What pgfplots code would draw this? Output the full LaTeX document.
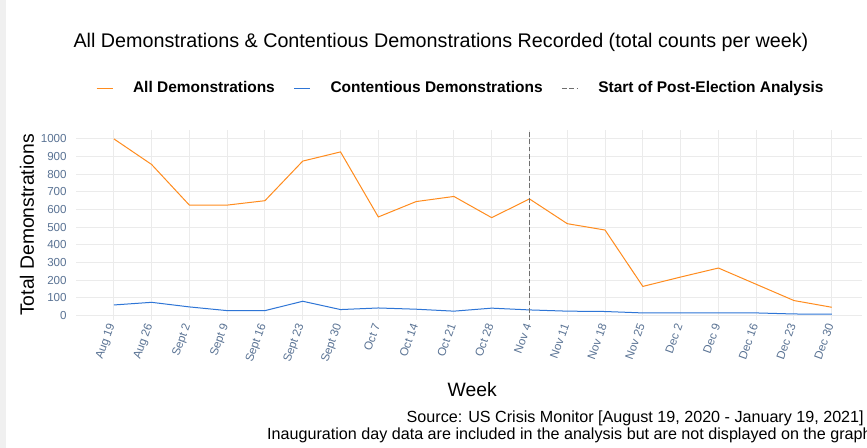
\documentclass[border=0pt]{standalone}
\usepackage{fontspec}
\setmainfont{Liberation Sans}
\usepackage{pgfplots}
\pgfplotsset{compat=1.18}
\definecolor{allorange}{RGB}{255,140,30}
\definecolor{contblue}{RGB}{46,117,214}
\definecolor{gridgray}{RGB}{235,235,235}
\definecolor{tickblue}{RGB}{90,115,148}
\definecolor{dashgray}{RGB}{110,110,110}
\definecolor{edgegray}{RGB}{240,240,240}

\begin{document}
\begin{tikzpicture}[x=0.75pt,y=0.75pt]
\useasboundingbox (0,0) rectangle (867,448);
\fill[white] (0,0) rectangle (867,448);
\fill[edgegray] (0,0) rectangle (6,448);
\begin{axis}[
    at={(57pt,96pt)}, anchor=south west,
    scale only axis, width=589.5pt, height=142.5pt,
    xmin=-1, xmax=19.8, ymin=-25, ymax=1050,
    axis line style={draw=none}, tick style={draw=none},
    grid=major, grid style={color=gridgray, line width=0.75pt},
    xtick={0,...,19},
    xticklabels={Aug 19, Aug 26, Sept 2, Sept 9, Sept 16, Sept 23, Sept 30, Oct 7, Oct 14, Oct 21, Oct 28, Nov 4, Nov 11, Nov 18, Nov 25, Dec 2, Dec 9, Dec 16, Dec 23, Dec 30},
    ytick={0,100,...,1000},
    /pgf/number format/assume math mode=true,
    /pgf/number format/1000 sep={},
    xticklabel style={rotate=70, anchor=east, font=\fontsize{8.7}{10}\selectfont, text=tickblue},
    yticklabel style={font=\fontsize{8.7}{10}\selectfont, text=tickblue, xshift=-3.5pt},
    xlabel={Week}, ylabel={Total Demonstrations},
    label style={font=\fontsize{14.5}{16}\selectfont},
    xlabel style={at={(axis description cs:0.504,-0.368)}, anchor=center},
    ylabel style={at={(axis description cs:-0.0623,0.5)}, anchor=center},
    legend columns=3,
    legend style={draw=none, fill=none, at={(0.49,1.221)}, anchor=center,
        font=\bfseries\fontsize{11.6}{13}\selectfont,
        /tikz/every odd column/.append style={column sep=13pt},
        /tikz/every even column/.append style={column sep=12pt}},
    legend image code/.code={\draw[#1] (0pt,0pt) -- (12pt,0pt);},
]
\addplot[color=allorange, line width=0.75pt] coordinates {
(0,1000) (1,855) (2,625) (3,625) (4,650) (5,874) (6,926) (7,558) (8,645) (9,674)
(10,554) (11,660) (12,520) (13,484) (14,165) (15,218) (16,269) (17,177) (18,85) (19,47)};
\addlegendentry{All Demonstrations}
\addplot[color=contblue, line width=0.75pt] coordinates {
(0,60) (1,75) (2,49) (3,28) (4,28) (5,81) (6,34) (7,43) (8,36) (9,25)
(10,42) (11,32) (12,25) (13,23) (14,15) (15,15) (16,15) (17,15) (18,9) (19,8)};
\addlegendentry{Contentious Demonstrations}
\addplot[color=dashgray, line width=0.75pt, dash pattern=on 3.5pt off 2pt] coordinates {(11,-25) (11,1050)};
\addlegendentry{Start of Post-Election Analysis}
\end{axis}
\node[font=\fontsize{14.8}{16}\selectfont] at (441,406) {All Demonstrations \& Contentious Demonstrations Recorded (total counts per week)};
\node[font=\fontsize{12.1}{14}\selectfont, anchor=base east, inner sep=0pt] at (864,25) {Source: US Crisis Monitor [August 19, 2020 - January 19, 2021]};
\node[font=\fontsize{12.1}{14}\selectfont, anchor=base east, inner sep=0pt] at (872,8) {Inauguration day data are included in the analysis but are not displayed on the graph};
\end{tikzpicture}
\end{document}
